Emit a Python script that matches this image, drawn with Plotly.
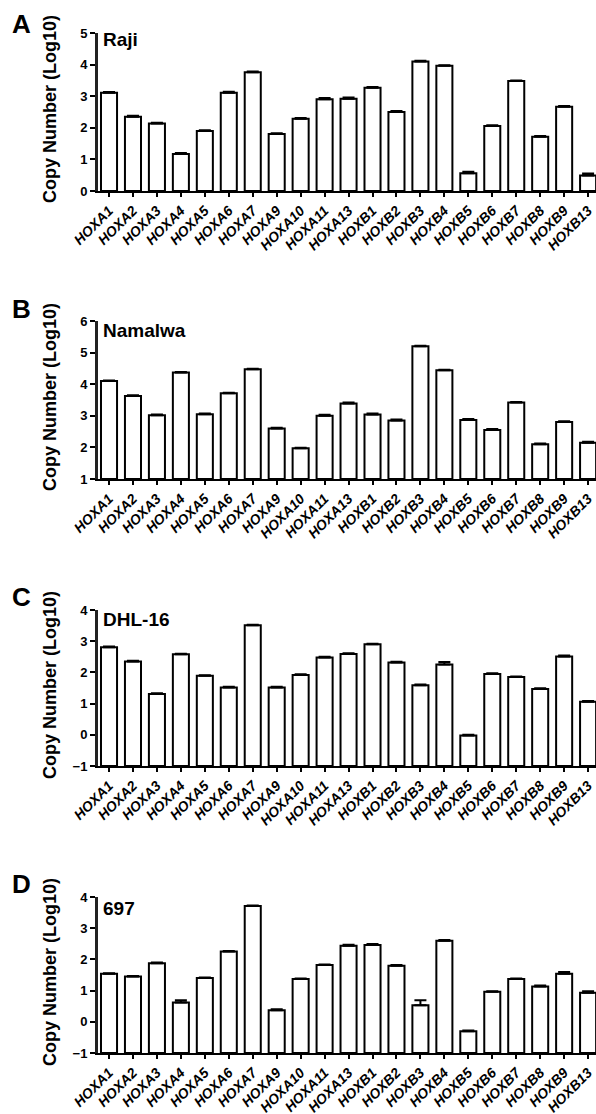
import plotly.graph_objects as go

genes = ["HOXA1", "HOXA2", "HOXA3", "HOXA4", "HOXA5", "HOXA6", "HOXA7", "HOXA9",
         "HOXA10", "HOXA11", "HOXA13", "HOXB1", "HOXB2", "HOXB3", "HOXB4", "HOXB5",
         "HOXB6", "HOXB7", "HOXB8", "HOXB9", "HOXB13"]

raji = [3.11, 2.35, 2.14, 1.17, 1.90, 3.11, 3.76, 1.80, 2.29, 2.90, 2.92,
        3.27, 2.50, 4.10, 3.96, 0.56, 2.06, 3.48, 1.72, 2.67, 0.49]
raji_err = [0.02, 0.03, 0.02, 0.03, 0.02, 0.03, 0.02, 0.03, 0.02, 0.04, 0.04,
            0.02, 0.03, 0.02, 0.02, 0.05, 0.02, 0.02, 0.02, 0.02, 0.06]

namalwa = [4.10, 3.63, 3.02, 4.37, 3.05, 3.71, 4.47, 2.60, 1.97, 3.00, 3.39,
           3.04, 2.85, 5.20, 4.44, 2.87, 2.55, 3.42, 2.10, 2.80, 2.15]
namalwa_err = [0.02, 0.02, 0.02, 0.02, 0.02, 0.02, 0.02, 0.02, 0.02, 0.03, 0.03,
               0.03, 0.03, 0.02, 0.02, 0.03, 0.03, 0.02, 0.02, 0.03, 0.03]

dhl16 = [2.81, 2.35, 1.31, 2.58, 1.89, 1.52, 3.51, 1.52, 1.92, 2.48, 2.59,
         2.90, 2.32, 1.59, 2.25, -0.02, 1.95, 1.85, 1.47, 2.51, 1.06]
dhl16_err = [0.02, 0.02, 0.02, 0.02, 0.02, 0.02, 0.02, 0.02, 0.02, 0.02, 0.02,
             0.02, 0.02, 0.02, 0.08, 0.02, 0.02, 0.02, 0.02, 0.03, 0.02]

c697 = [1.54, 1.45, 1.88, 0.62, 1.40, 2.25, 3.71, 0.37, 1.37, 1.82, 2.44,
        2.46, 1.80, 0.53, 2.60, -0.30, 0.96, 1.37, 1.13, 1.54, 0.93]
c697_err = [0.02, 0.02, 0.02, 0.07, 0.02, 0.02, 0.02, 0.03, 0.02, 0.02, 0.03,
            0.03, 0.02, 0.16, 0.02, 0.02, 0.02, 0.02, 0.03, 0.06, 0.05]

panels = [
    ("A", "Raji", raji, raji_err, [0, 5]),
    ("B", "Namalwa", namalwa, namalwa_err, [1, 6]),
    ("C", "DHL-16", dhl16, dhl16_err, [-1, 4]),
    ("D", "697", c697, c697_err, [-1, 4]),
]

W, H = 596, 1114
ydom_px = [(33, 191), (321, 479), (610, 766), (897, 1053)]
name_y_px = [39, 330, 619, 908]
letter_y_px = [24, 309, 597, 884]
x0_px, x1_px = 98, 596
FONT = "Liberation Sans, Arial, sans-serif"

fig = go.Figure()
layout = dict(
    width=W, height=H,
    margin=dict(l=0, r=0, t=0, b=0, autoexpand=False),
    paper_bgcolor="white", plot_bgcolor="white",
    showlegend=False,
    font=dict(family=FONT, color="black"),
)
annotations = []

for i, (letter, name, vals, errs, yr) in enumerate(panels):
    k = "" if i == 0 else str(i + 1)
    xa, ya = "x" + k, "y" + k
    base = yr[0]
    fig.add_trace(go.Bar(
        x=genes, y=[v - base for v in vals], base=base,
        xaxis=xa, yaxis=ya, width=0.67,
        marker=dict(color="white", line=dict(color="black", width=2)),
    ))
    fig.add_trace(go.Scatter(
        x=genes, y=vals, xaxis=xa, yaxis=ya, mode="markers",
        marker=dict(size=1, color="rgba(0,0,0,0)"),
        error_y=dict(type="data", array=errs, arrayminus=[0] * len(errs),
                     symmetric=False, color="black", thickness=2, width=6),
    ))
    top, bot = ydom_px[i]
    layout["xaxis" + k] = dict(
        domain=[x0_px / W, x1_px / W], anchor=ya, automargin=False,
        type="category", range=[-0.46, 20.33],
        showline=True, linecolor="black", linewidth=2,
        ticks="outside", ticklen=4, tickwidth=1.5, tickcolor="black",
        tickangle=-45,
        tickfont=dict(size=14, family=FONT, weight="bold", style="italic"),
        showgrid=False, zeroline=False, fixedrange=True,
    )
    layout["yaxis" + k] = dict(
        domain=[1 - bot / H, 1 - top / H], anchor=xa, automargin=False,
        range=yr, dtick=1, tick0=0,
        showline=True, linecolor="#222", linewidth=3,
        ticks="outside", ticklen=5, tickwidth=1.5, tickcolor="black",
        tickfont=dict(size=13, family=FONT, weight="bold"),
        showgrid=False, zeroline=False, fixedrange=True,
    )
    annotations.append(dict(
        text=letter, xref="paper", yref="paper", x=21 / W, y=1 - letter_y_px[i] / H,
        xanchor="center", yanchor="middle", showarrow=False,
        font=dict(size=26, family=FONT, weight="bold"),
    ))
    annotations.append(dict(
        text=name, xref="paper", yref="paper", x=101 / W, y=1 - name_y_px[i] / H,
        xanchor="left", yanchor="middle", showarrow=False,
        font=dict(size=19, family=FONT, weight="bold"),
    ))
    annotations.append(dict(
        text="Copy Number (Log10)", xref="paper", yref="paper",
        x=50 / W, y=1 - ((top + bot) / 2 - 3) / H, textangle=-90,
        xanchor="center", yanchor="middle", showarrow=False,
        font=dict(size=18, family=FONT, weight="bold"),
    ))

layout["annotations"] = annotations
fig.update_layout(**layout)
fig.write_html("out.html")
